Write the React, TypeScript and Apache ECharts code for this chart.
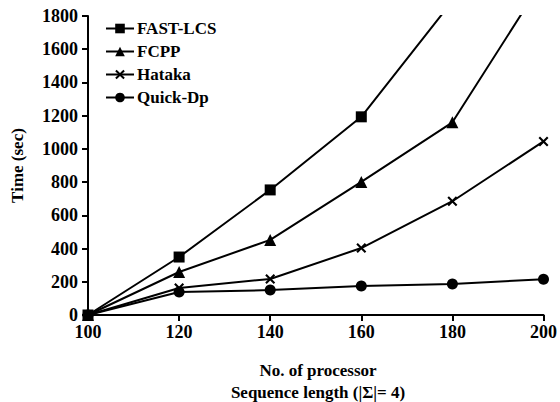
import React, { useEffect, useRef } from "react";
import * as echarts from "echarts";

const xValues = [100, 120, 140, 160, 180, 200];
const fastLcs = [0, 349, 753, 1193, 1890, 2700];
const fcpp = [0, 259, 452, 801, 1160, 2020];
const hataka = [0, 163, 217, 403, 685, 1045];
const quickDp = [0, 138, 150, 175, 187, 215];
const xTitle1 = "No. of processor";
const xTitle2 = "Sequence length (|Σ|= 4)";
const yTitle = "Time (sec)";

const crossPath =
  "path://M1.5,0L5,3.5L8.5,0L10,1.5L6.5,5L10,8.5L8.5,10L5,6.5L1.5,10L0,8.5L3.5,5L0,1.5Z";

const FONT = "Liberation Serif";
const FW = "bold";
const FS = 18;

export default function App() {
  const ref = useRef<HTMLDivElement>(null);
  useEffect(() => {
    if (!ref.current) return;
    const chart = echarts.init(ref.current, undefined, { renderer: "svg" });
    const mk = (name: string, data: number[], symbol: string, size: number) => ({
      name,
      type: "line",
      data: xValues.map((x, i) => [x, data[i]]),
      symbol,
      symbolSize: size,
      clip: true,
      lineStyle: { color: "#000", width: 2 },
      itemStyle: { color: "#000", borderWidth: 0 },
    });
    const txt = (size: number) => ({ color: "#000", fontFamily: FONT, fontSize: size, fontWeight: FW });
    chart.setOption({
      animation: false,
      backgroundColor: "#fff",
      grid: { left: 88, right: 13, top: 16, bottom: 87 },
      legend: {
        left: 100,
        top: 15,
        orient: "vertical",
        itemWidth: 28,
        itemHeight: 12,
        itemGap: 6,
        textStyle: { ...txt(17), padding: [0, 0, 0, -2] },
        data: ["FAST-LCS", "FCPP", "Hataka", "Quick-Dp"],
      },
      xAxis: {
        type: "value",
        min: 100,
        max: 200,
        interval: 20,
        axisLine: { lineStyle: { color: "#000", width: 2 } },
        axisTick: { lineStyle: { color: "#000", width: 2 }, length: 6 },
        splitLine: { show: false },
        axisLabel: { ...txt(FS), margin: 8, formatter: (v: number) => String(v) },
      },
      yAxis: {
        type: "value",
        min: 0,
        max: 1800,
        interval: 200,
        name: yTitle,
        nameLocation: "middle",
        nameGap: 62,
        nameTextStyle: txt(17),
        axisLine: { show: true, lineStyle: { color: "#000", width: 2 } },
        axisTick: { show: true, lineStyle: { color: "#000", width: 2 }, length: 6 },
        splitLine: { show: false },
        axisLabel: { ...txt(FS), margin: 10, formatter: (v: number) => String(v) },
      },
      graphic: [
        {
          type: "text",
          x: 318,
          y: 370,
          style: {
            text: xTitle1,
            fill: "#000",
            fontFamily: FONT,
            fontSize: 17,
            fontWeight: FW,
            textAlign: "center",
            textVerticalAlign: "middle",
          },
        },
        {
          type: "text",
          x: 318,
          y: 392,
          style: {
            text: xTitle2,
            fill: "#000",
            fontFamily: FONT,
            fontSize: 17,
            fontWeight: FW,
            textAlign: "center",
            textVerticalAlign: "middle",
          },
        },
      ],
      series: [
        mk("FAST-LCS", fastLcs, "rect", 11),
        mk("FCPP", fcpp, "triangle", 12),
        mk("Hataka", hataka, crossPath, 10),
        mk("Quick-Dp", quickDp, "circle", 11),
      ],
    });
    return () => chart.dispose();
  }, []);
  return <div ref={ref} style={{ width: 560, height: 402, position: "absolute", left: 0, top: 0 }} />;
}
